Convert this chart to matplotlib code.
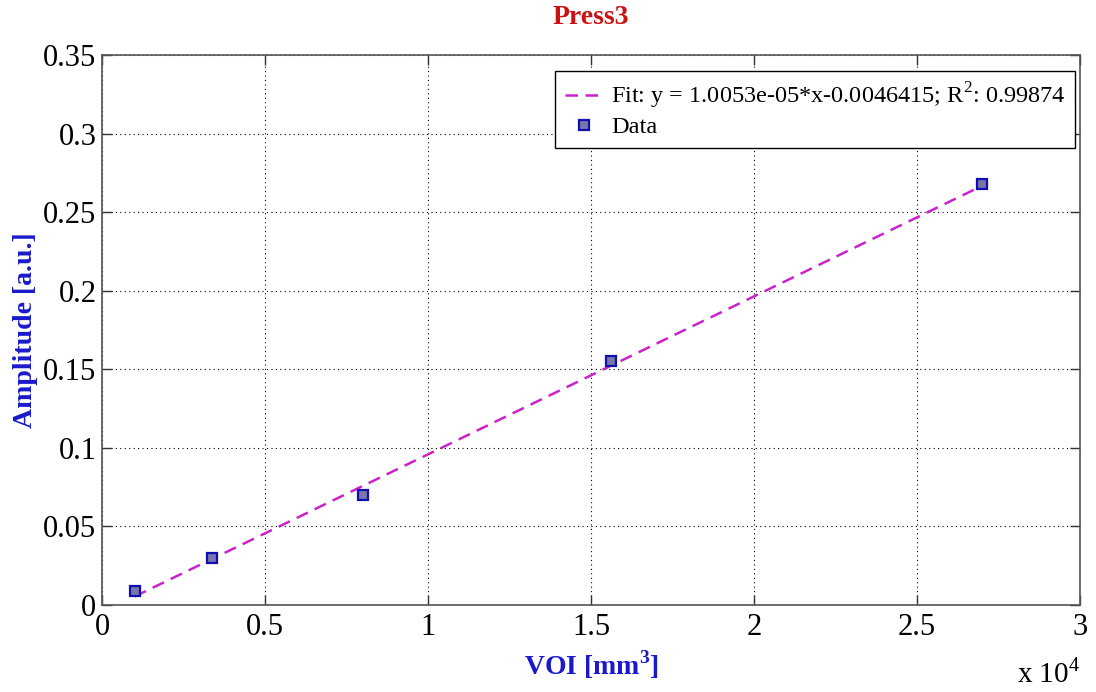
import matplotlib
matplotlib.use('Agg')
import matplotlib.pyplot as plt
import numpy as np

# Данные
voi = [1000, 3375, 8000, 15625, 27000]
amplitude = [0.0087, 0.0302, 0.0697, 0.1550, 0.2682]
slope = 1.0053e-05
intercept = -0.0046415
r2 = 0.99874

x_ticks = [0, 5000, 10000, 15000, 20000, 25000, 30000]
x_ticklabels = ['0', '0.5', '1', '1.5', '2', '2.5', '3']
y_ticks = [0, 0.05, 0.1, 0.15, 0.2, 0.25, 0.3, 0.35]
y_ticklabels = ['0', '0.05', '0.1', '0.15', '0.2', '0.25', '0.3', '0.35']

plt.rcParams['font.family'] = ['Liberation Serif', 'DejaVu Serif']
plt.rcParams['mathtext.fontset'] = 'custom'
plt.rcParams['mathtext.rm'] = 'Liberation Serif'
plt.rcParams['mathtext.bf'] = 'Liberation Serif:bold'

fig = plt.figure(figsize=(10.96, 6.92), dpi=100)
ax = fig.add_axes([0.0931, 0.1257, 0.8923, 0.7948])

# Линия аппроксимации
fit_x = np.array([voi[0], voi[-1]])
fit_y = slope * fit_x + intercept
ax.plot(fit_x, fit_y, '--', color='#cc22cc', lw=1.8, dashes=(5, 3),
        label='Fit: y = %.5ge-05*x%.5g; R$^2$: %.5g' % (slope * 1e5, intercept, r2))
ax.plot(voi, amplitude, 's', ms=7, mfc='#7777aa', mec='#1010b0', mew=1.6,
        linestyle='none', label='Data')

ax.set_xlim(0, 30000)
ax.set_ylim(0, 0.35)
ax.set_xticks(x_ticks)
ax.set_xticklabels(x_ticklabels)
ax.set_yticks(y_ticks)
ax.set_yticklabels(y_ticklabels)
ax.tick_params(direction='in', length=7, width=1, labelsize=22, pad=4,
               top=True, right=True, colors='#333333', labelcolor='black')
ax.tick_params(axis='x', pad=6)
ax.grid(True, linestyle=(0, (1, 3)), color='black', lw=0.8)
for s in ax.spines.values():
    s.set_color('#555555')
    s.set_linewidth(1.2)

ax.set_title('Press3', color='#cc1111', fontsize=20, fontweight='bold', pad=22)
ax.set_xlabel('VOI [mm$^\\mathbf{3}$]', color='#1a1acc', fontsize=20, fontweight='bold', labelpad=4)
ax.set_ylabel('Amplitude [a.u.]', color='#1a1acc', fontsize=20, fontweight='bold', labelpad=4)
fig.text(0.928, 0.005, 'x 10$^4$', fontsize=21, ha='left', va='bottom')

leg = ax.legend(loc='upper right', bbox_to_anchor=(0.995, 0.971), fontsize=17.5,
                fancybox=False, framealpha=1, edgecolor='black',
                handlelength=1.6, handletextpad=0.3, borderaxespad=0.0,
                labelspacing=0.22, borderpad=0.4)
leg.get_frame().set_linewidth(1.0)

fig.savefig('out.png', dpi=100)
